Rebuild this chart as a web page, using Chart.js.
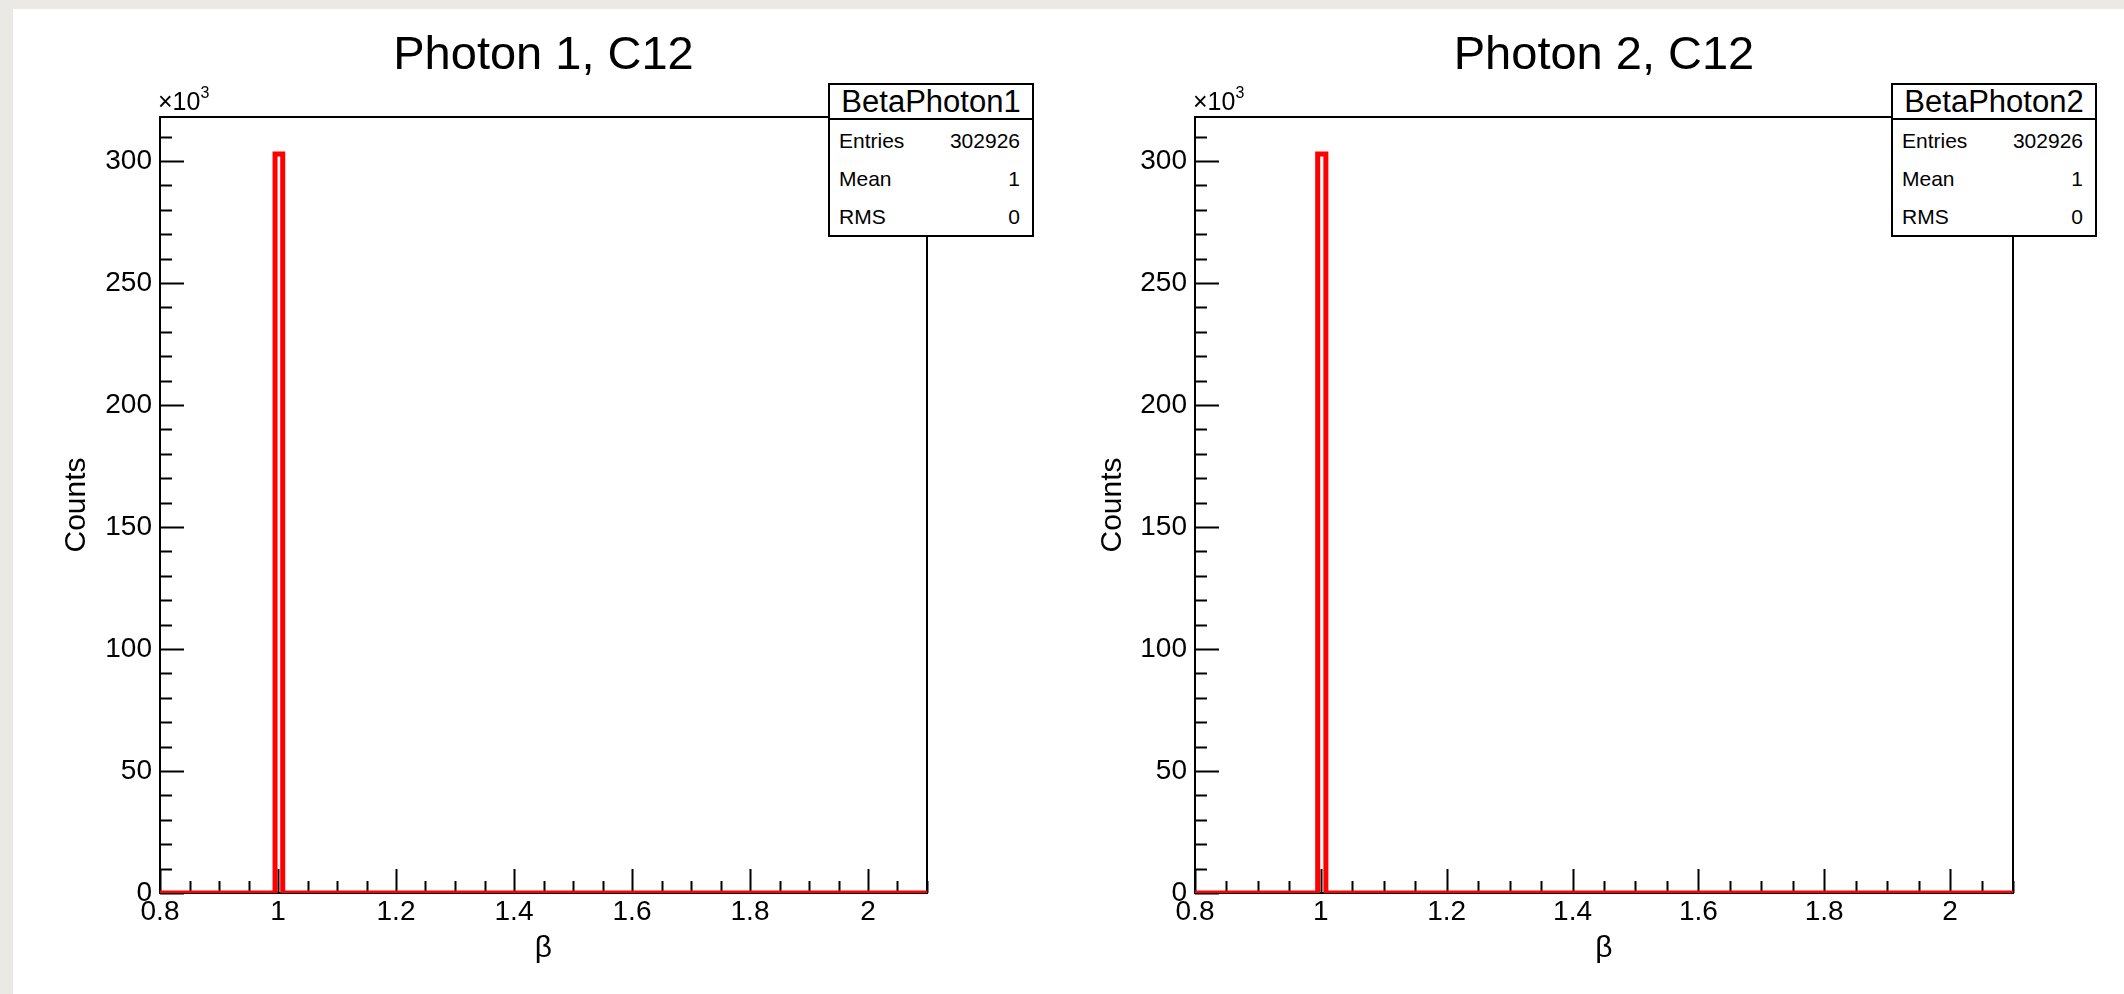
<!DOCTYPE html>
<html>
<head>
<meta charset="utf-8">
<title>Beta photon 1 / 2, C12</title>
<script src="https://cdn.jsdelivr.net/npm/chart.js@4.4.1/dist/chart.umd.min.js"></script>
<style>
  html, body { margin: 0; padding: 0; overflow: hidden; }
  body { width: 2124px; height: 994px; background: #ebe9e4; position: relative; font-family: "Liberation Sans", Arial, sans-serif; }
  #sheet { position: absolute; left: 13px; top: 9px; right: 0; bottom: 0; background: #fff; }
  canvas { position: absolute; top: 0; }
  .stats { position: absolute; top: 83px; width: 202px; height: 150px; border: 2px solid #000; background: #fff; color: #000; }
  .stats .head { height: 33px; border-bottom: 2px solid #000; font-size: 31px; line-height: 34px; text-align: center; }
  .stats .row { height: 38px; line-height: 42px; font-size: 21px; padding: 0 12px 0 9px; display: flex; justify-content: space-between; }
  .mult { position: absolute; top: 87px; font-size: 25px; color: #000; }
  .mult sup { font-size: 16px; position: relative; top: -3px; }
</style>
</head>
<body>
<div id="sheet"></div>
<canvas id="c1" width="1062" height="994" style="left:0px;width:1062px;height:994px"></canvas>
<canvas id="c2" width="1062" height="994" style="left:1062px;width:1062px;height:994px"></canvas>
<div class="mult" style="left:158px">&times;10<sup>3</sup></div>
<div class="mult" style="left:1193px">&times;10<sup>3</sup></div>
<div class="stats" id="s1" style="left:828px"></div>
<div class="stats" id="s2" style="left:1891px"></div>
<script>
// histogram: 100 bins from 0.8 to 2.1, only one bin filled
const binEdges = [0.8, 0.995, 1.008, 2.1];
const photon1Counts = [0, 302926, 0, 0];
const photon2Counts = [0, 302926, 0, 0];

const xTickValues = [0.8, 1.0, 1.2, 1.4, 1.6, 1.8, 2.0];
const yTickValues = [0, 50000, 100000, 150000, 200000, 250000, 300000];
const xRange = [0.8, 2.1];
const yMax = 318072;

const titles = ["Photon 1, C12", "Photon 2, C12"];
const statNames = ["BetaPhoton1", "BetaPhoton2"];
const statLabels = ["Entries", "Mean", "RMS"];
const photon1Stats = ["302926", "1", "0"];
const photon2Stats = ["302926", "1", "0"];

const FONT = "'Liberation Sans', Arial, sans-serif";

// ROOT-like frame with ticks drawn inside
const frameTicks = {
  id: "frameTicks",
  beforeDatasetsDraw(chart) {
    const { ctx, chartArea: a, scales } = chart;
    const x = scales.x, y = scales.y;
    ctx.save();
    ctx.strokeStyle = "#000";
    ctx.lineWidth = 2;
    ctx.strokeRect(a.left, a.top, a.right - a.left, a.bottom - a.top);
    ctx.beginPath();
    // x ticks: major 0.2, minor 0.05
    for (let i = 0; i <= 26; i++) {
      const v = 0.8 + i * 0.05;
      const px = Math.round(x.getPixelForValue(v)) + 0.5;
      const len = i % 4 === 0 ? 24 : 12;
      ctx.moveTo(px, a.bottom);
      ctx.lineTo(px, a.bottom - len);
    }
    // y ticks: major 50k, minor 10k
    for (let i = 0; i <= 31; i++) {
      const py = Math.round(y.getPixelForValue(i * 10000)) + 0.5;
      const len = i % 5 === 0 ? 24 : 12;
      ctx.moveTo(a.left, py);
      ctx.lineTo(a.left + len, py);
    }
    ctx.stroke();
    ctx.restore();
  }
};

function makeChart(id, title, counts, yWidth, yTitlePad, padRight) {
  const pts = binEdges.map((e, i) => ({ x: e, y: counts[i] }));
  return new Chart(document.getElementById(id), {
    type: "line",
    data: {
      datasets: [{
        data: pts,
        stepped: true,
        borderColor: "#ff0000",
        borderWidth: 5,
        pointRadius: 0,
        fill: false
      }]
    },
    options: {
      responsive: false,
      animation: false,
      devicePixelRatio: 1,
      layout: { padding: { left: 0, right: padRight, top: 0, bottom: 0 } },
      plugins: { legend: { display: false }, tooltip: { enabled: false }, title: { display: false } },
      scales: {
        x: {
          type: "linear", position: "bottom", min: xRange[0], max: xRange[1],
          afterBuildTicks: s => { s.ticks = xTickValues.map(v => ({ value: v })); },
          afterFit: s => { s.height = 101; },
          grid: { display: false, drawTicks: false },
          border: { display: false },
          ticks: {
            autoSkip: false, maxRotation: 0, padding: 2, color: "#000",
            font: { family: FONT, size: 28 },
            callback: v => String(Math.round(v * 10) / 10)
          },
          title: { display: true, text: "β", color: "#000", font: { family: FONT, size: 30 }, padding: { top: 0, bottom: 27 } }
        },
        top: {
          type: "linear", position: "top", min: xRange[0], max: xRange[1],
          afterFit: s => { s.height = 117; },
          grid: { display: false, drawTicks: false },
          border: { display: false },
          ticks: { display: false },
          title: { display: true, text: title, color: "#000", font: { family: FONT, size: 47 }, padding: { top: 28, bottom: 0 } }
        },
        y: {
          type: "linear", position: "left", min: 0, max: yMax,
          afterBuildTicks: s => { s.ticks = yTickValues.map(v => ({ value: v })); },
          afterFit: s => { s.width = yWidth; },
          grid: { display: false, drawTicks: false },
          border: { display: false },
          ticks: {
            autoSkip: false, padding: 8, color: "#000",
            font: { family: FONT, size: 28 },
            callback: v => String(v / 1000)
          },
          title: { display: true, text: "Counts", color: "#000", font: { family: FONT, size: 30 }, padding: { top: yTitlePad, bottom: 0 } }
        }
      }
    },
    plugins: [frameTicks]
  });
}

function fillStats(id, name, values) {
  const box = document.getElementById(id);
  let html = '<div class="head">' + name + '</div>';
  statLabels.forEach((l, i) => {
    html += '<div class="row"><span>' + l + '</span><span>' + values[i] + '</span></div>';
  });
  box.innerHTML = html;
}

makeChart("c1", titles[0], photon1Counts, 160, 59, 135);
makeChart("c2", titles[1], photon2Counts, 133, 33, 111);
fillStats("s1", statNames[0], photon1Stats);
fillStats("s2", statNames[1], photon2Stats);
</script>
</body>
</html>
